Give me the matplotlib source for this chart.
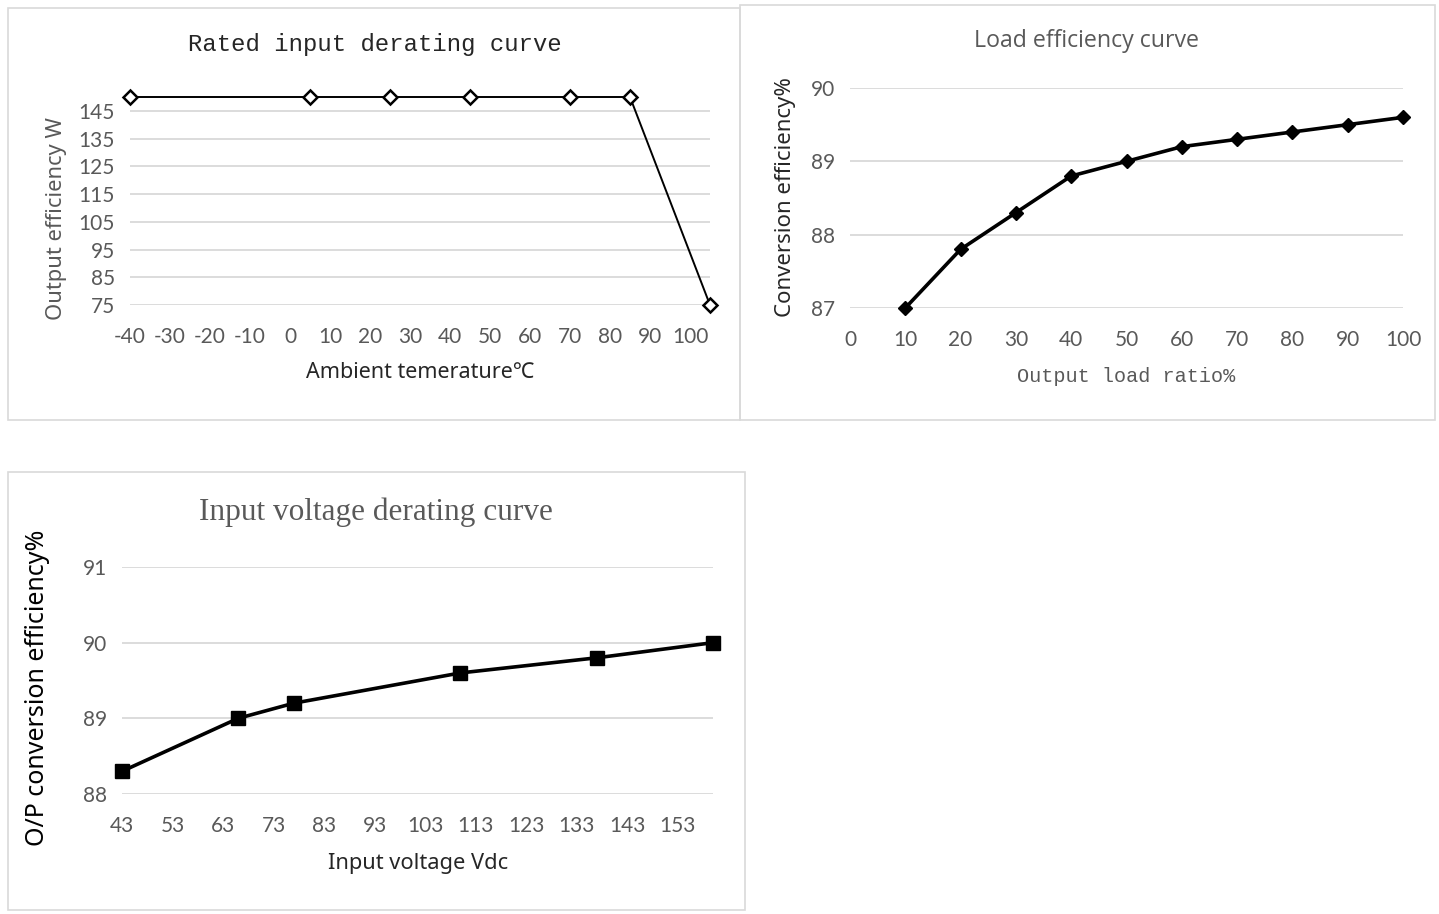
import matplotlib
matplotlib.use("Agg")
import matplotlib.pyplot as plt
from matplotlib.patches import Rectangle

plt.rcParams["axes.unicode_minus"] = False

# ---------------- data ----------------
temp_c = [-40, 5, 25, 45, 70, 85, 105]
temp_power = [150, 150, 150, 150, 150, 150, 75]
temp_xticks = list(range(-40, 101, 10))
temp_yticks = [75, 85, 95, 105, 115, 125, 135, 145]

load_pct = [10, 20, 30, 40, 50, 60, 70, 80, 90, 100]
load_eff = [87.0, 87.8, 88.3, 88.8, 89.0, 89.2, 89.3, 89.4, 89.5, 89.6]
load_xticks = list(range(0, 101, 10))
load_yticks = [87, 88, 89, 90]

vin = [43, 66, 77, 110, 137, 160]
vin_eff = [88.3, 89.0, 89.2, 89.6, 89.8, 90.0]
vin_xticks = list(range(43, 154, 10))
vin_yticks = [88, 89, 90, 91]

titles = ["Rated input derating curve", "Load efficiency curve", "Input voltage derating curve"]
xlabels = ["Ambient temerature\u2103", "Output load ratio%", "Input voltage Vdc"]
ylabels = ["Output efficiency W", "Conversion efficiency%", "O/P conversion efficiency%"]

# ---------------- layout helpers ----------------
W, H = 1439, 914
fig = plt.figure(figsize=(W / 100, H / 100), dpi=100)
fig.patch.set_facecolor("white")

def ax_px(left, top, right, bottom):
    return fig.add_axes([left / W, 1 - bottom / H, (right - left) / W, (bottom - top) / H])

def box_px(left, top, right, bottom):
    fig.add_artist(Rectangle((left / W, 1 - bottom / H), (right - left) / W, (bottom - top) / H,
                             transform=fig.transFigure, fill=False, ec="#d9d9d9", lw=1.2))

def text_px(x, y, s, **kw):
    fig.text(x / W, 1 - y / H, s, ha="center", va="center", **kw)

GRAY = "#595959"
GRID = "#d9d9d9"
SANS = ["Lato", "DejaVu Sans"]
SANS2 = ["Noto Sans", "DejaVu Sans"]
MONO = ["Liberation Mono", "DejaVu Sans Mono"]

def style(ax, xticks, yticks, xlim, ylim, tsize, xpad, ypad):
    ax.set_xlim(*xlim)
    ax.set_ylim(*ylim)
    ax.set_xticks(xticks)
    ax.set_yticks(yticks)
    for s in ax.spines.values():
        s.set_visible(False)
    ax.grid(axis="y", color=GRID, lw=1.3)
    ax.grid(axis="x", visible=False)
    ax.set_axisbelow(True)
    ax.tick_params(length=0, labelsize=tsize, labelcolor=GRAY)
    ax.tick_params(axis="x", pad=xpad)
    ax.tick_params(axis="y", pad=ypad)
    for lab in ax.get_xticklabels() + ax.get_yticklabels():
        lab.set_fontfamily(SANS)
    ax.patch.set_alpha(0)

# ---------------- panel boxes ----------------
box_px(8, 8, 740, 420)
box_px(740, 5, 1435, 420)
box_px(8, 472, 745, 910)

# ---------------- panel 1 ----------------
ax1 = ax_px(130, 97, 710, 305)
style(ax1, temp_xticks, temp_yticks, (-40, 105), (75, 150), 15, 16, 11)
ax1.plot(temp_c, temp_power, color="black", lw=1.4, marker="D", ms=7,
         mfc="white", mec="black", mew=1.8, clip_on=False, zorder=3)
text_px(375, 44, titles[0], fontsize=17.2, color="#262626", family=MONO)
text_px(420, 373, xlabels[0], fontsize=15.5, color="#262626", family=SANS2)
text_px(57, 219, ylabels[0], fontsize=15.8, color=GRAY, rotation=90, family=SANS2)

# ---------------- panel 2 ----------------
ax2 = ax_px(850, 88, 1403, 308)
style(ax2, load_xticks, load_yticks, (0, 100), (87, 90), 15, 15.5, 11)
ax2.plot(load_pct, load_eff, color="black", lw=2.6, marker="D", ms=7.5,
         mfc="black", mec="black", clip_on=False, zorder=3)
text_px(1087, 41, titles[1], fontsize=16.7, color=GRAY, family=["Open Sans", "DejaVu Sans"])
text_px(1126, 377, xlabels[1], fontsize=14.5, color=GRAY, family=MONO)
text_px(786, 197, ylabels[1], fontsize=16, color="#262626", rotation=90, family=SANS2)

# ---------------- panel 3 ----------------
ax3 = ax_px(122, 567, 713, 794)
style(ax3, vin_xticks, vin_yticks, (43, 160), (88, 91), 15, 15.5, 11)
ax3.plot(vin, vin_eff, color="black", lw=2.6, marker="s", ms=10,
         mfc="black", mec="black", clip_on=False, zorder=3)
text_px(376, 512, titles[2], fontsize=22.5, color=GRAY, family=["Liberation Serif", "DejaVu Serif"])
text_px(418, 863, xlabels[2], fontsize=15.7, color="#262626", family=SANS2)
text_px(38, 688, ylabels[2], fontsize=18, color="black", rotation=90, family=SANS2)

fig.savefig("out.png", dpi=100, facecolor="white")
